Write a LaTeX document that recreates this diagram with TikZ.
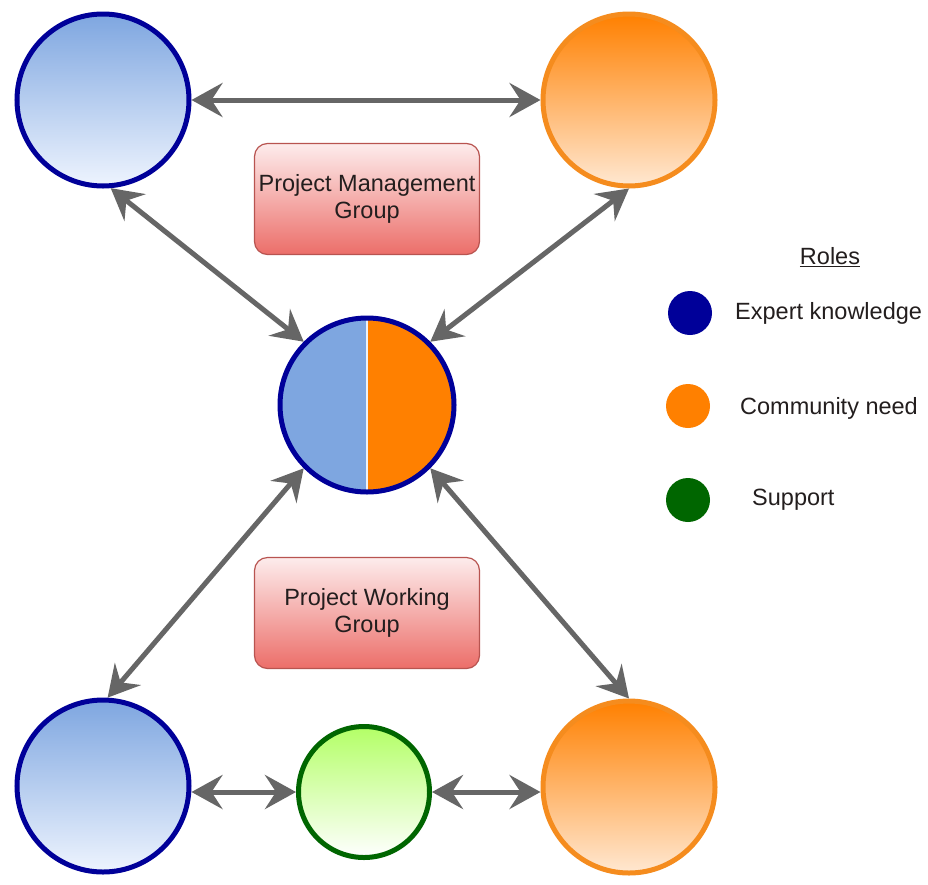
\documentclass[tikz,border=0pt]{standalone}
\usepackage{fontspec}
\setmainfont{Liberation Sans}
\usetikzlibrary{arrows.meta}
\definecolor{ekBlue}{RGB}{0,0,153}
\definecolor{ekFill}{RGB}{126,166,224}
\definecolor{ekFillB}{RGB}{238,244,254}
\definecolor{cnOrange}{RGB}{255,128,0}
\definecolor{cnStroke}{RGB}{245,140,30}
\definecolor{cnFillB}{RGB}{255,232,210}
\definecolor{spGreen}{RGB}{0,102,0}
\definecolor{spFill}{RGB}{179,255,102}
\definecolor{boxTop}{RGB}{253,236,236}
\definecolor{boxBot}{RGB}{236,110,105}
\definecolor{boxStroke}{RGB}{184,84,80}
\definecolor{arrowGray}{RGB}{102,102,102}
\definecolor{txt}{RGB}{35,30,30}
\tikzset{
  roleexpert/.style={circle, draw=ekBlue, line width=5pt, minimum size=172pt, inner sep=0pt, top color=ekFill, bottom color=ekFillB},
  rolecommunity/.style={circle, draw=cnStroke, line width=5pt, minimum size=172pt, inner sep=0pt, top color=cnOrange, bottom color=cnFillB},
  rolesupport/.style={circle, draw=spGreen, line width=5pt, minimum size=131pt, inner sep=0pt, top color=spFill, bottom color=white},
  groupbox/.style={rectangle, rounded corners=13pt, draw=boxStroke, line width=1.2pt, minimum width=225pt, minimum height=111pt, top color=boxTop, bottom color=boxBot, align=center, text=txt, font=\fontsize{23.5}{27.5}\selectfont},
  link/.style={draw=arrowGray, line width=5pt, {Stealth[length=31pt,width=34pt,inset=11pt]}-{Stealth[length=31pt,width=34pt,inset=11pt]}},
  legenddot/.style={circle, minimum size=44pt, inner sep=0pt},
  legendtext/.style={anchor=west, inner sep=0pt, text=txt, font=\fontsize{23.5}{27.5}\selectfont}
}
\begin{document}
\begin{tikzpicture}[x=1pt, y=-1pt]
\useasboundingbox[fill=white] (0,0) rectangle (928,884);

\node[roleexpert] (tl) at (103,100) {};
\node[rolecommunity] (tr) at (629,100) {};
\node[roleexpert] (bl) at (103,786) {};
\node[rolecommunity] (br) at (629,787) {};
\node[rolesupport] (sp) at (364,792) {};

\node[circle, draw=ekBlue, line width=5pt, minimum size=174pt, inner sep=0pt, fill=ekFill,
  path picture={\fill[cnOrange] (path picture bounding box.north) rectangle (path picture bounding box.south east);
  \draw[white!85!ekFill, line width=1.2pt] (path picture bounding box.north) -- (path picture bounding box.south);}] (mid) at (367,405) {};

\node[groupbox] (pmg) at (367,199) {Project Management\\Group};
\node[groupbox] (pwg) at (367,613) {Project Working\\Group};

\draw[link] (tl) -- (tr);
\draw[link] (tl.-85) -- (mid.135);
\draw[link] (tr.-90) -- (mid.45);
\draw[link] (mid.225) -- (bl.87);
\draw[link] (mid.-45) -- (br.90);
\draw[link] (sp.west) -- (sp.west -| bl.east);
\draw[link] (sp.east) -- (sp.east -| br.west);

\node[legendtext, anchor=center] (roles) at (830,257) {\underline{Roles}};
\node[legenddot, fill=ekBlue] (dotE) at (690,313) {};
\node[legendtext] (txtE) at (735,313) {Expert knowledge};
\node[legenddot, fill=cnOrange] (dotC) at (688,406) {};
\node[legendtext] (txtC) at (740,408) {Community need};
\node[legenddot, fill=spGreen] (dotS) at (688,500) {};
\node[legendtext] (txtS) at (752,500) {Support};
\end{tikzpicture}
\end{document}
